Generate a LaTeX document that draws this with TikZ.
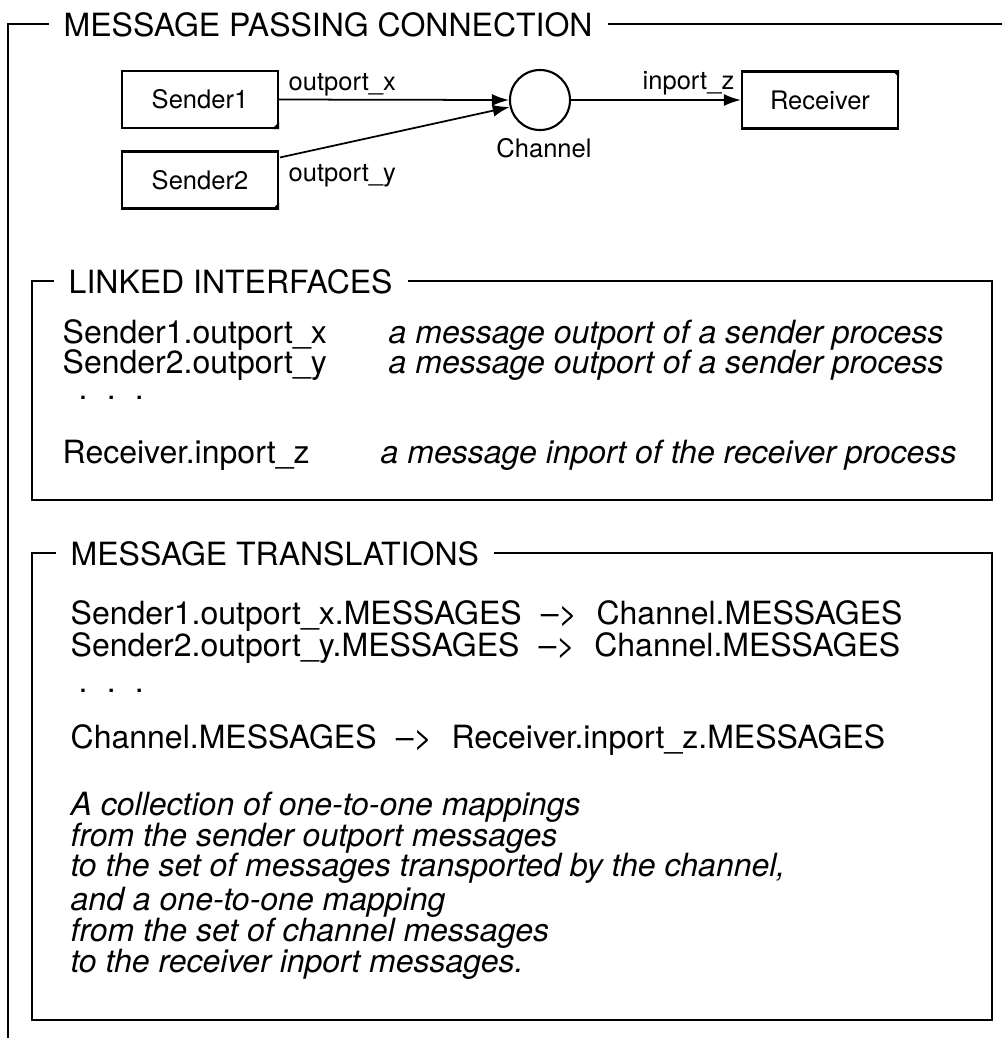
\documentclass[tikz,border=0pt]{standalone}
\usepackage{fontspec}
\setmainfont{TeX Gyre Heros}
\usepackage{tikz}
\usetikzlibrary{positioning}
\usetikzlibrary{arrows.meta}
\usetikzlibrary{calc}
\newcommand{\bigtxt}{\fontsize{9.1}{11}\selectfont}
\newcommand{\smalltxt}{\fontsize{7.26}{9}\selectfont}
\newcommand{\dotrow}{.\hspace{0.6em}.\hspace{0.6em}.}
\newcommand{\maps}{\hspace{0.6em}--{>}\hspace{0.6em}}
\tikzstyle{procbox}=[rectangle,draw,line width=0.6pt,minimum width=1.56cm,minimum height=0.57cm,inner sep=0pt,font=\smalltxt]
\tikzstyle{chanvertex}=[circle,draw,line width=0.6pt,minimum size=0.6cm,inner sep=0pt]
\tikzstyle{msgedge} = [draw,line width=0.5pt,-{Latex[length=1.7mm,width=1.2mm]}]
\tikzstyle{portlabel} = [inner sep=0pt,font=\smalltxt]
\tikzstyle{frametitle} = [fill=white,inner xsep=0.15cm,inner ysep=0pt,anchor=base west,font=\bigtxt]
\tikzstyle{textline} = [inner sep=0pt,anchor=base west,font=\bigtxt]
\tikzstyle{noteline} = [inner sep=0pt,anchor=base west,font=\bigtxt\itshape]
\tikzstyle{framebox} = [draw,line width=0.5pt]
\begin{document}
\begin{tikzpicture}[x=0.01cm,y=-0.01cm]
    \useasboundingbox (0,0) rectangle (1002,1038);

    % outer frame
    \draw[framebox] (1002,24) -- (8,24) -- (8,1038);
    \node[frametitle] (title) at (48,36) {MESSAGE PASSING CONNECTION};

    \foreach \pos/\name/\txt in {{(200,99.5)/snd1/Sender1}, {(200,180)/snd2/Sender2}, {(820,100)/rcv/Receiver}}
            \node[procbox] (\name) at \pos {\txt};
    \node[chanvertex] (chan) at (540,100) {};
    \node[portlabel,anchor=base] (chanlabel) at (544,157) {Channel};
    % corner marks
    \fill (snd1.south east) -- ++(-7,0) -- ++(7,-7) -- cycle;
    \fill (snd2.south east) -- ++(-7,0) -- ++(7,-7) -- cycle;
    \fill (rcv.north east) -- ++(-7,0) -- ++(7,7) -- cycle;
    % Connect vertices with edges and draw port names
    \path[msgedge] (snd1.east) -- (chan.west);
    \path[msgedge] ($(snd2.north east)+(1,7)$) -- (chan.193);
    \path[msgedge] (chan.east) -- (rcv.west);
    \node[portlabel,anchor=base west] (outx) at (288,90) {outport\_x};
    \node[portlabel,anchor=base west] (outy) at (288,181) {outport\_y};
    \node[portlabel,anchor=base east] (inz) at (735,89) {inport\_z};

    % linked interfaces
    \draw[framebox] (32,281) rectangle (992,500);
    \node[frametitle] (linktitle) at (53,293) {LINKED INTERFACES};
    \foreach \y/\port/\nx/\note in {343/Sender1.outport\_x/388/a message outport of a sender process,
                                    373/Sender2.outport\_y/388/a message outport of a sender process,
                                    463/Receiver.inport\_z/380/a message inport of the receiver process}
    {
        \node[textline] (port\y) at (62,\y) {\port};
        \node[noteline] (note\y) at (\nx,\y) {\note};
    }
    \node[textline] (linkdots) at (78,399) {\dotrow};

    % message translations
    \draw[framebox] (32,553) rectangle (992,1020);
    \node[frametitle] (transtitle) at (55,565) {MESSAGE TRANSLATIONS};
    \foreach \y/\txt in {624/Sender1.outport\_x.MESSAGES\maps Channel.MESSAGES,
                         656/Sender2.outport\_y.MESSAGES\maps Channel.MESSAGES,
                         748/Channel.MESSAGES\maps Receiver.inport\_z.MESSAGES}
            \node[textline] (map\y) at (70,\y) {\txt};
    \node[textline] (transdots) at (78,692) {\dotrow};
    \foreach \y/\txt in {815/A collection of one-to-one mappings,
                         846/from the sender outport messages,
                         876/{to the set of messages transported by the channel,},
                         910/and a one-to-one mapping,
                         941/from the set of channel messages,
                         972/to the receiver inport messages.}
            \node[noteline] (note\y) at (70,\y) {\txt};

\end{tikzpicture}
\end{document}
